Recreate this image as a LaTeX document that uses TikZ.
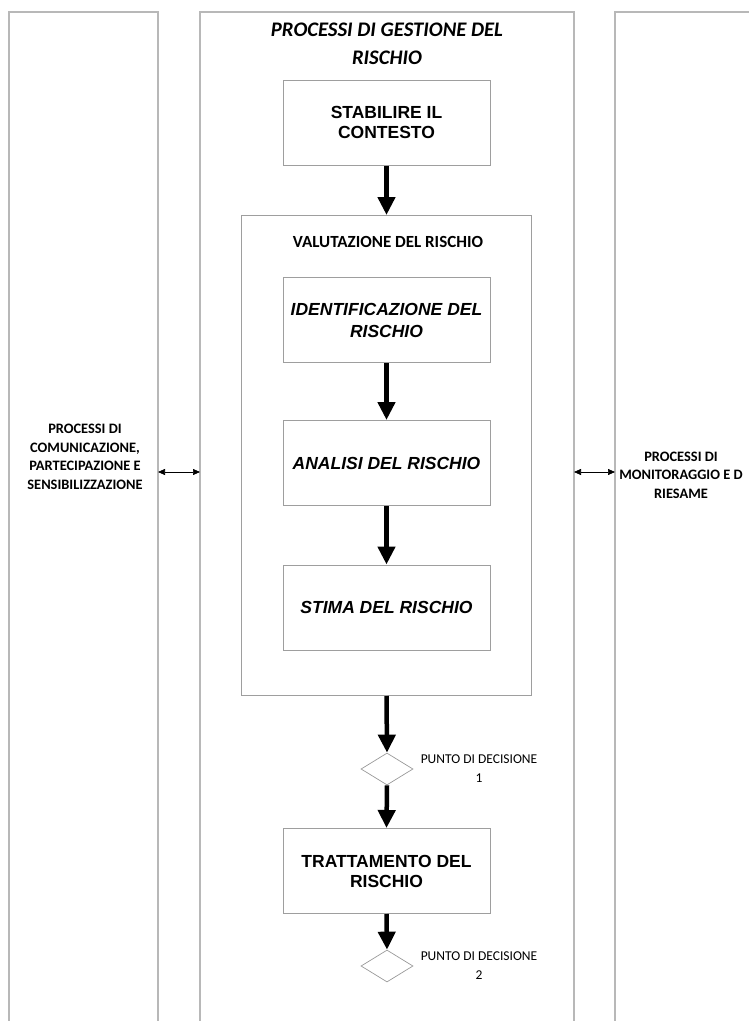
\documentclass[tikz,border=0pt]{standalone}
\usepackage{fontspec}
\setmainfont{Liberation Sans}
\newfontfamily\calib{Carlito}
\usetikzlibrary{arrows.meta,shapes.geometric}
\tikzset{
  col/.style={draw=black!28, line width=1.3pt},
  box/.style={draw=black!38, line width=1pt, minimum width=207pt, minimum height=85pt, align=center, inner sep=0pt, font=\fontsize{17.5}{20}\selectfont\bfseries},
  ibox/.style={box, font=\fontsize{17.5}{22}\selectfont\bfseries\itshape},
  flow/.style={line width=4.5pt, -{Triangle[length=18pt,width=17pt]}},
  dec/.style={diamond, draw=black!40, line width=0.7pt, minimum width=52pt, minimum height=32pt, inner sep=0pt},
  lab/.style={font=\calib\fontsize{13.5}{19}\selectfont, align=center},
  side/.style={font=\calib\bfseries\fontsize{14.4}{18.5}\selectfont, align=center},
  dbl/.style={line width=0.7pt, {Triangle[length=7pt,width=6pt]}-{Triangle[length=7pt,width=6pt]}}
}
\begin{document}
\begin{tikzpicture}[x=1pt,y=-1pt]
\useasboundingbox (0,0) rectangle (749,1021);
\clip (0,0) rectangle (749,1021);
% columns
\draw[col] (9,1030) -- (9,12) -- (158,12) -- (158,1030);
\draw[col] (200,1030) -- (200,12) -- (574,12) -- (574,1030);
\draw[col] (615,1030) -- (615,12) -- (760,12);
\coordinate (lcr) at (158,472);
\coordinate (mcl) at (200,472);
\coordinate (mcr) at (574,472);
\coordinate (rcl) at (615,472);
% title
\node[font=\calib\bfseries\itshape\fontsize{20.7}{28}\selectfont, align=center] (title) at (387,44) {PROCESSI DI GESTIONE DEL\\RISCHIO};
% boxes
\node[box] (stab) at (386.5,122.5) {STABILIRE IL\\CONTESTO};
\node[draw=black!38, line width=1pt, minimum width=290pt, minimum height=480pt, inner sep=0pt] (val) at (386.5,455.5) {};
\node[font=\calib\bfseries\fontsize{17}{20}\selectfont] (valt) at (388,242) {VALUTAZIONE DEL RISCHIO};
\node[ibox] (ident) at (386.5,320) {IDENTIFICAZIONE DEL\\RISCHIO};
\node[ibox] (anal) at (386.5,463) {ANALISI DEL RISCHIO};
\node[ibox] (stima) at (386.5,607.5) {STIMA DEL RISCHIO};
\node[dec] (d1) at (387,769) {};
\node[lab] (l1) at (479,769) {PUNTO DI DECISIONE\\1};
\node[box] (tratt) at (386.5,871) {TRATTAMENTO DEL\\RISCHIO};
\node[dec] (d2) at (387,966) {};
\node[lab] (l2) at (479,966) {PUNTO DI DECISIONE\\2};
% flow arrows
\draw[flow] (stab.south) -- (val.north);
\draw[flow] (ident.south) -- (anal.north);
\draw[flow] (anal.south) -- (stima.north);
\draw[flow] (val.south) -- (d1.north);
\draw[flow] (d1.south) -- (tratt.north);
\draw[flow] (tratt.south) -- (d2.north);
% side processes
\node[side] (left) at (85,457) {PROCESSI DI\\COMUNICAZIONE,\\PARTECIPAZIONE E\\SENSIBILIZZAZIONE};
\node[side] (right) at (681,475) {PROCESSI DI\\MONITORAGGIO E D\\RIESAME};
\draw[dbl] (lcr) -- (mcl);
\draw[dbl] (mcr) -- (rcl);
\end{tikzpicture}
\end{document}
